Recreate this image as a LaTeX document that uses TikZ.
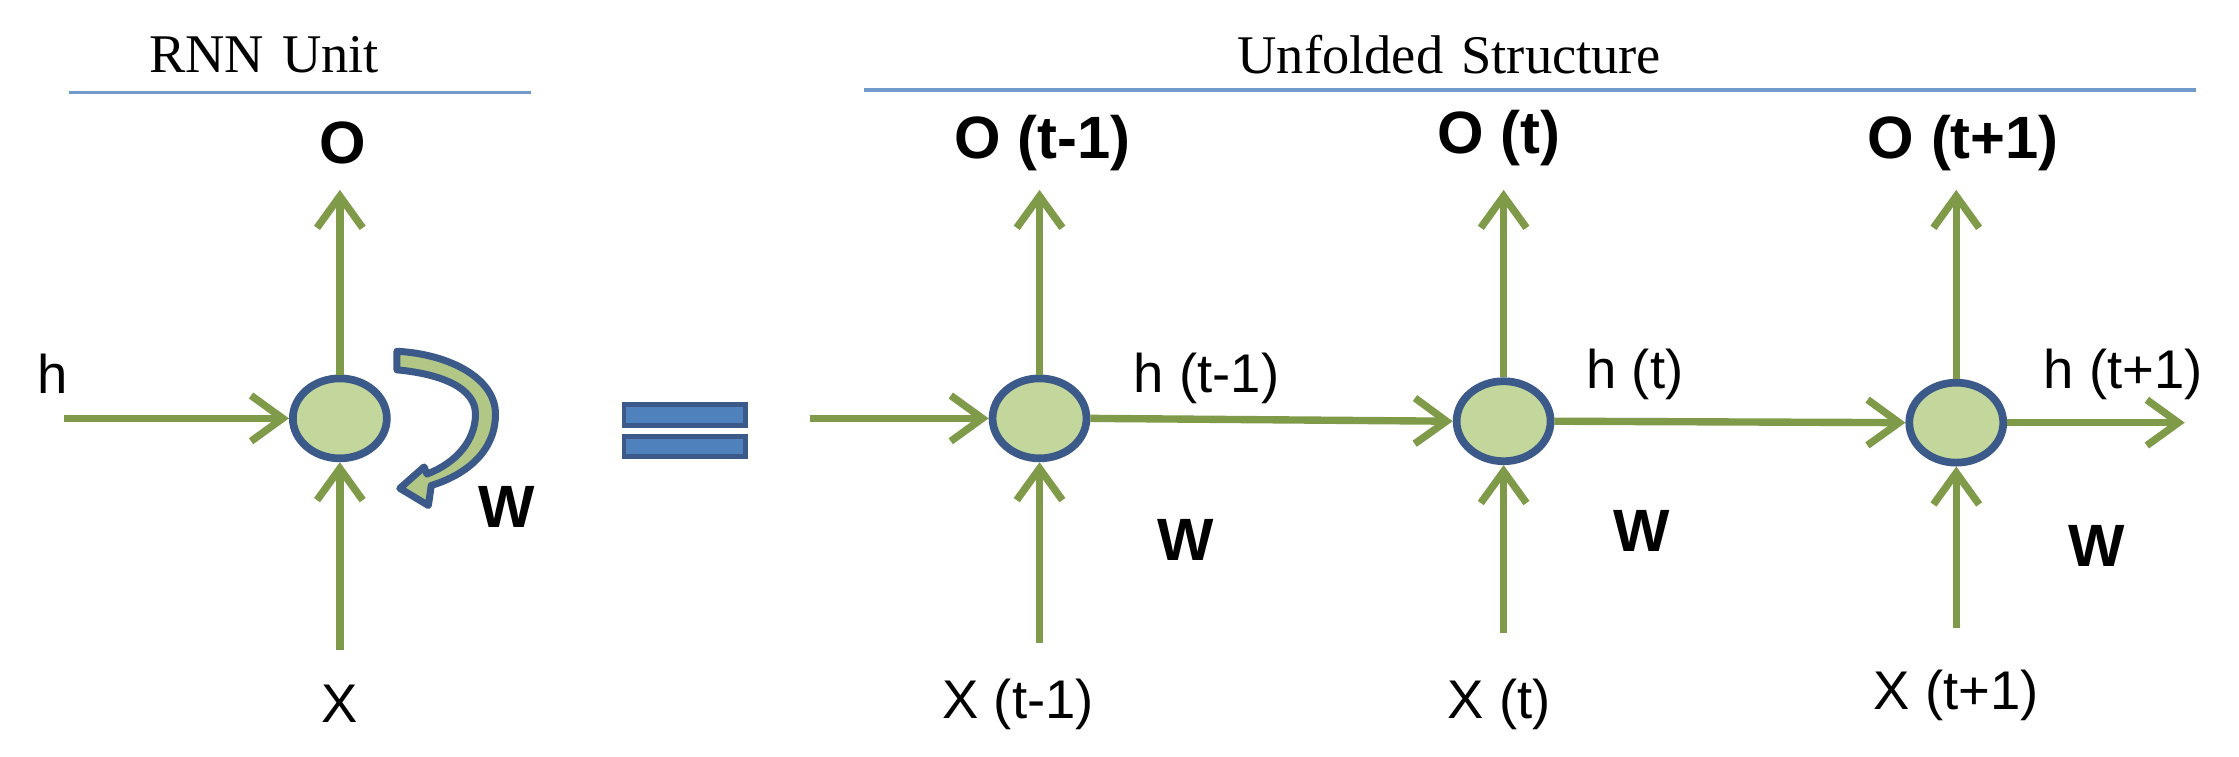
\documentclass[tikz,border=0pt]{standalone}
\usepackage{fontspec}
\setmainfont{Liberation Serif}
\newfontfamily\lab{Liberation Sans}
\usetikzlibrary{arrows.meta,shapes.geometric}
\definecolor{arr}{HTML}{7F9A48}
\definecolor{cfill}{HTML}{C3D69B}
\definecolor{cedge}{HTML}{3B5A8A}
\definecolor{eqc}{HTML}{4F81BD}
\begin{document}
\begin{tikzpicture}[x=0.01428cm,y=-0.01428cm,
  cell/.style={ellipse,draw=cedge,line width=2.2pt,fill=cfill,minimum width=0.94cm,minimum height=0.8cm,inner sep=0pt},
  ar/.style={draw=arr,line width=2.1pt,-{Straight Barb[length=9pt,width=13pt,line width=2.1pt]}},
  lb/.style={font=\lab\fontsize{15.5}{18}\selectfont,inner sep=0pt},
  bl/.style={font=\lab\bfseries\fontsize{17}{20}\selectfont,inner sep=0pt},
  ttl/.style={font=\fontsize{15.5}{18}\selectfont,inner sep=0pt},
  rule/.style={draw=eqc!80,line width=0.9pt}]
\useasboundingbox (0,0) rectangle (1568,530);
% titles
\node[ttl] (t1) at (185,38) {RNN\,\,Unit};
\node[ttl] (t2) at (1015,38) {Unfolded\,\,Structure};
\coordinate (r1a) at (48,65); \coordinate (r1b) at (372,65);
\coordinate (r2a) at (605,63); \coordinate (r2b) at (1538,63);
\draw[rule] (r1a) -- (r1b);
\draw[rule] (r2a) -- (r2b);
% left unit
\node[cell] (c0) at (238,293) {};
\node[bl] (o0) at (240,100) {O};
\node[lb] (h0) at (37,262) {h};
\node[lb] (x0) at (238,493) {X};
\node[bl] (w0) at (355,355) {W};
\coordinate (o0a) at (238,133);
\coordinate (h0a) at (45,293);
\coordinate (x0a) at (238,455);
\draw[ar] (c0.north) -- (o0a);
\draw[ar] (h0a) -- (c0.west);
\draw[ar] (x0a) -- (c0.south);
% curved block arrow
\draw[cedge,line width=2pt,fill=cfill!75!arr,line join=round]
  (278,246) .. controls (315,248) and (347,265) .. (347,290)
  .. controls (347,315) and (328,332) .. (302,340)
  -- (300,354) -- (280,342) -- (297,327) -- (299,332)
  .. controls (320,324) and (333,308) .. (333,290)
  .. controls (333,272) and (310,262) .. (278,259) -- cycle;
% equals
\draw[cedge,fill=eqc,line width=1.4pt] (437,283) rectangle (522,298);
\draw[cedge,fill=eqc,line width=1.4pt] (437,306) rectangle (522,320);
% unfolded
\node[cell] (c1) at (728,293) {};
\node[cell] (c2) at (1053,295) {};
\node[cell] (c3) at (1370,296) {};
\coordinate (in) at (567,293);
\coordinate (out) at (1530,296);
\draw[ar] (in) -- (c1.west);
\draw[ar] (c1.east) -- (c2.west);
\draw[ar] (c2.east) -- (c3.west);
\draw[ar] (c3.east) -- (out);
\coordinate (o1a) at (728,133); \coordinate (o2a) at (1053,133); \coordinate (o3a) at (1370,133);
\draw[ar] (c1.north) -- (o1a);
\draw[ar] (c2.north) -- (o2a);
\draw[ar] (c3.north) -- (o3a);
\coordinate (x1a) at (728,450); \coordinate (x2a) at (1053,443); \coordinate (x3a) at (1370,440);
\draw[ar] (x1a) -- (c1.south);
\draw[ar] (x2a) -- (c2.south);
\draw[ar] (x3a) -- (c3.south);
\node[bl] (o1) at (730,100) {O (t-1)};
\node[bl] (o2) at (1050,97) {O (t)};
\node[bl] (o3) at (1375,100) {O (t+1)};
\node[lb] (h1) at (845,265) {h (t-1)};
\node[lb] (h2) at (1145,262) {h (t)};
\node[lb] (h3) at (1487,262) {h (t+1)};
\node[bl] (w1) at (830,378) {W};
\node[bl] (w2) at (1150,372) {W};
\node[bl] (w3) at (1468,382) {W};
\node[lb] (x1) at (713,493) {X (t-1)};
\node[lb] (x2) at (1050,493) {X (t)};
\node[lb] (x3) at (1370,487) {X (t+1)};
\end{tikzpicture}
\end{document}
